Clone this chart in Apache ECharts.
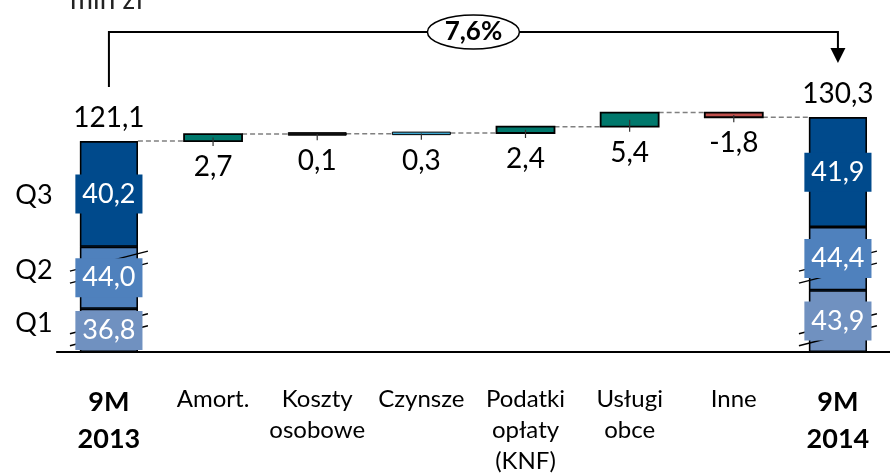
<!DOCTYPE html>
<html>
<head>
<meta charset="utf-8">
<script src="https://cdn.jsdelivr.net/npm/echarts@6/dist/echarts.min.js"></script>
<style>
  html, body { margin: 0; padding: 0; background: #fff; }
  #chart { width: 890px; height: 474px; }
</style>
</head>
<body>
<div id="chart"></div>
<script>
// Categories along the x axis (line breaks split the wrapped labels)
const categories = ['9M\n2013', 'Amort.', 'Koszty\nosobowe', 'Czynsze', 'Podatki\nopłaty\n(KNF)', 'Usługi\nobce', 'Inne', '9M\n2014'];
const boldCategories = [0, 7];

// Quarterly costs of the two totals (mln zł), first and last column
const quarterNames = ['Q1', 'Q2', 'Q3'];
const q1 = [36.8, 43.9];
const q2 = [44.0, 44.4];
const q3 = [40.2, 41.9];
const totals = [121.1, 130.3];

// Year-on-year changes per cost item (mln zł)
const deltas = [2.7, 0.1, 0.3, 2.4, 5.4, -1.8];
const deltaColors = ['#00786C', '#111111', '#3AA6D0', '#00786C', '#00786C', '#C0504D'];

// Compressed ranges of the value axis
const axisBreaks = [[8.5, 28.8], [52.7, 73.0]];

const quarterColors = ['#7091C0', '#4F81BD', '#004A8C'];
const FONT = 'Lato, "Noto Sans", sans-serif';
const BAR_W = 58;
const MIN_BAR_H = 2.5;

const fmt = v => v.toFixed(1).replace('.', ',');
const lastIdx = categories.length - 1;
const totalIdx = [0, lastIdx];

// Stacked quarter columns on the two total categories
function quarterSeriesData(arr) {
  const d = categories.map(() => null);
  d[0] = arr[0];
  d[lastIdx] = arr[1];
  return d;
}
const quarters = [q1, q2, q3];

// Waterfall steps: [category, from, to]
const steps = [];
const levels = [totals[0]];
let running = totals[0];
deltas.forEach((d, i) => {
  steps.push([i + 1, running, running + d]);
  running += d;
  levels.push(running);
});

// Segment boxes for the in-bar value labels: [category, low, high, quarter]
const segments = [];
totalIdx.forEach((cat, j) => {
  let base = 0;
  quarters.forEach((arr, k) => {
    segments.push([cat, base, base + arr[j], k]);
    base += arr[j];
  });
});

// Break markers drawn across both total columns
const breakMarks = [];
totalIdx.forEach(cat => axisBreaks.forEach(b => breakMarks.push([cat, b[0]])));

const qLabelShift = [-7, -7, 1];

const chart = echarts.init(document.getElementById('chart'), null, { renderer: 'canvas' });

const option = {
  animation: false,
  backgroundColor: '#fff',
  grid: { left: 56.85, right: -17.25, top: 91.6, bottom: 122, containLabel: false },
  xAxis: {
    type: 'category',
    data: categories,
    axisLine: { lineStyle: { color: '#000', width: 2 } },
    axisTick: { show: false },
    axisLabel: {
      interval: 0,
      margin: 32,
      formatter: (value, idx) => {
        const tag = boldCategories.includes(idx) ? 'b' : 'r';
        return value.split('\n').map(l => `{${tag}|${l}}`).join('\n');
      },
      rich: {
        b: { fontFamily: FONT, fontWeight: 'bold', fontSize: 27, lineHeight: 37, color: '#000' },
        r: { fontFamily: FONT, fontSize: 24, lineHeight: 31, color: '#000' }
      }
    }
  },
  yAxis: {
    type: 'value',
    min: 0,
    max: 140,
    show: false,
    splitLine: { show: false },
    breaks: axisBreaks.map(b => ({ start: b[0], end: b[1], gap: 0 })),
    breakArea: { show: false }
  },
  series: [
    {
      name: 'total',
      type: 'bar',
      barWidth: BAR_W,
      barGap: '-100%',
      z: 1,
      data: quarterSeriesData(totals),
      itemStyle: { color: quarterColors[2], borderColor: '#000', borderWidth: 1.5 },
      label: {
        show: true,
        position: 'top',
        distance: 9,
        fontFamily: FONT,
        fontSize: 28,
        color: '#000',
        formatter: p => fmt(p.value)
      }
    },
    ...quarters.map((arr, k) => ({
      name: quarterNames[k],
      type: 'bar',
      stack: 'q',
      barWidth: BAR_W,
      barGap: '-100%',
      z: 2,
      data: quarterSeriesData(arr),
      itemStyle: { color: quarterColors[k], borderColor: '#000', borderWidth: 1.5 }
    })),
    {
      // dashed connectors between consecutive columns
      name: 'connectors',
      type: 'custom',
      z: 2,
      data: levels.map((v, i) => [i, v]),
      renderItem: (params, api) => {
        const i = api.value(0);
        const a = api.coord([i, api.value(1)]);
        const b = api.coord([i + 1, api.value(1)]);
        return {
          type: 'line',
          shape: { x1: a[0] + BAR_W / 2, y1: a[1], x2: b[0] - BAR_W / 2, y2: a[1] },
          style: { stroke: '#808080', lineWidth: 1.5, lineDash: [5, 3] }
        };
      }
    },
    {
      // floating change bars with their value labels
      name: 'changes',
      type: 'custom',
      z: 3,
      data: steps,
      renderItem: (params, api) => {
        const x = api.value(0), from = api.value(1), to = api.value(2);
        const top = api.coord([x, Math.max(from, to)]);
        const bot = api.coord([x, Math.min(from, to)]);
        const cx = top[0];
        const i = params.dataIndex;
        const h = bot[1] - top[1];
        const hh = Math.max(h, MIN_BAR_H);
        const yTop = (top[1] + bot[1]) / 2 - hh / 2;
        const yBot = yTop + hh;
        return {
          type: 'group',
          children: [
            {
              type: 'rect',
              shape: { x: cx - BAR_W / 2, y: yTop, width: BAR_W, height: hh },
              style: { fill: deltaColors[i], stroke: '#000', lineWidth: h < MIN_BAR_H ? 1 : 1.8 }
            },
            {
              type: 'line',
              shape: { x1: cx, y1: (yTop + yBot) / 2, x2: cx, y2: yBot + 5 },
              style: { stroke: '#333', lineWidth: 1.2 }
            },
            {
              type: 'text',
              x: cx,
              y: yBot + 26,
              style: {
                text: fmt(deltas[i]),
                font: `28px ${FONT}`,
                fill: '#000',
                align: 'center',
                verticalAlign: 'middle'
              }
            }
          ]
        };
      }
    },
    {
      // break markers across the total columns
      name: 'breaks',
      type: 'custom',
      z: 3,
      data: breakMarks,
      renderItem: (params, api) => {
        const p = api.coord([api.value(0), api.value(1)]);
        return {
          type: 'group',
          children: [-6, 6].map(off => ({
            type: 'line',
            shape: { x1: p[0] - 39, y1: p[1] + off + 10, x2: p[0] + 39, y2: p[1] + off - 10 },
            style: { stroke: '#000', lineWidth: 1.5 }
          }))
        };
      }
    },
    {
      // quarter values on boxes, plus quarter names beside the first column
      name: 'quarterLabels',
      type: 'custom',
      z: 4,
      data: segments,
      renderItem: (params, api) => {
        const cat = api.value(0), lo = api.value(1), hi = api.value(2), k = api.value(3);
        const pLo = api.coord([cat, lo]);
        const pHi = api.coord([cat, hi]);
        const cy = (pLo[1] + pHi[1]) / 2;
        const children = [{
          type: 'text',
          x: pLo[0],
          y: cy,
          style: {
            text: fmt(hi - lo),
            font: `27px ${FONT}`,
            fill: '#fff',
            align: 'center',
            verticalAlign: 'middle',
            backgroundColor: quarterColors[k],
            padding: [6, 7, 6, 7]
          }
        }];
        if (cat === 0) {
          children.push({
            type: 'text',
            x: pLo[0] - 75,
            y: cy + qLabelShift[k],
            style: {
              text: quarterNames[k],
              font: `27px ${FONT}`,
              fill: '#000',
              align: 'center',
              verticalAlign: 'middle'
            }
          });
        }
        return { type: 'group', children };
      }
    }
  ]
};

chart.setOption(option);

// Bracket with the overall change between the two totals
const pA = chart.convertToPixel({ xAxisIndex: 0, yAxisIndex: 0 }, [0, totals[0]]);
const pB = chart.convertToPixel({ xAxisIndex: 0, yAxisIndex: 0 }, [lastIdx, totals[1]]);
const bracketY = 32;
const tipY = pB[1] - 54;
const midX = (pA[0] + pB[0]) / 2;
const pct = ((totals[1] / totals[0] - 1) * 100).toFixed(1).replace('.', ',') + '%';

chart.setOption({
  graphic: [
    {
      type: 'text',
      left: 70,
      top: -14,
      style: { text: 'mln zł', font: `28px ${FONT}`, fill: '#222' }
    },
    {
      type: 'polyline',
      shape: { points: [[pA[0], pA[1] - 54], [pA[0], bracketY], [pB[0], bracketY], [pB[0], tipY - 14]] },
      style: { stroke: '#000', lineWidth: 2, fill: null },
      z: 10
    },
    {
      type: 'polygon',
      shape: { points: [[pB[0] - 7.5, tipY - 15], [pB[0] + 7.5, tipY - 15], [pB[0], tipY]] },
      style: { fill: '#000' },
      z: 10
    },
    {
      type: 'ellipse',
      shape: { cx: midX, cy: bracketY, rx: 46, ry: 17 },
      style: { fill: '#fff', stroke: '#000', lineWidth: 1.5 },
      z: 11
    },
    {
      type: 'text',
      x: midX,
      y: bracketY,
      style: {
        text: pct,
        font: `bold 26px ${FONT}`,
        fill: '#000',
        align: 'center',
        verticalAlign: 'middle'
      },
      z: 12
    }
  ]
});
</script>
</body>
</html>
